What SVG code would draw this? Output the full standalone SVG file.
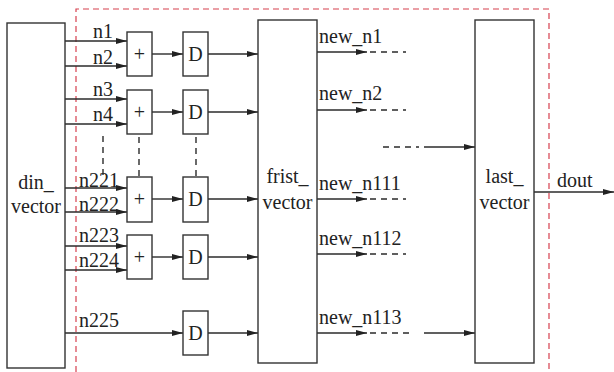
<svg xmlns="http://www.w3.org/2000/svg" width="614" height="372" viewBox="0 0 614 372">
<style>
.box{fill:#fff;stroke:#333;stroke-width:1.4}
.ln{fill:none;stroke:#2b2b2b;stroke-width:1.4}
.dl{fill:none;stroke:#2b2b2b;stroke-width:1.4;stroke-dasharray:6 5}
.red{fill:none;stroke:#d6404f;stroke-width:1.2;stroke-dasharray:6 4}
.t{font-size:20px;fill:#222}
.c{text-anchor:middle}
</style>
<defs>
<marker id="ah" markerWidth="12" markerHeight="8" refX="11" refY="4" orient="auto" markerUnits="userSpaceOnUse">
<path d="M0,1 L11,4 L0,7 Z" fill="#222"/>
</marker>
</defs>
<path class="red" d="M76,372 V9 H549 V372"/>
<g id="connectors">
<line class="ln" x1="65" y1="41" x2="127" y2="41" marker-end="url(#ah)"/>
<line class="ln" x1="65" y1="66" x2="127" y2="66" marker-end="url(#ah)"/>
<line class="ln" x1="65" y1="99" x2="127" y2="99" marker-end="url(#ah)"/>
<line class="ln" x1="65" y1="124" x2="127" y2="124" marker-end="url(#ah)"/>
<line class="ln" x1="65" y1="188" x2="127" y2="188" marker-end="url(#ah)"/>
<line class="ln" x1="65" y1="212" x2="127" y2="212" marker-end="url(#ah)"/>
<line class="ln" x1="65" y1="246" x2="127" y2="246" marker-end="url(#ah)"/>
<line class="ln" x1="65" y1="270" x2="127" y2="270" marker-end="url(#ah)"/>
<line class="ln" x1="65" y1="333" x2="183" y2="333" marker-end="url(#ah)"/>
<line class="ln" x1="152" y1="54" x2="183" y2="54" marker-end="url(#ah)"/>
<line class="ln" x1="152" y1="112" x2="183" y2="112" marker-end="url(#ah)"/>
<line class="ln" x1="152" y1="199" x2="183" y2="199" marker-end="url(#ah)"/>
<line class="ln" x1="152" y1="257" x2="183" y2="257" marker-end="url(#ah)"/>
<line class="ln" x1="208" y1="54" x2="258" y2="54" marker-end="url(#ah)"/>
<line class="ln" x1="208" y1="112" x2="258" y2="112" marker-end="url(#ah)"/>
<line class="ln" x1="208" y1="199" x2="258" y2="199" marker-end="url(#ah)"/>
<line class="ln" x1="208" y1="257" x2="258" y2="257" marker-end="url(#ah)"/>
<line class="ln" x1="208" y1="333" x2="258" y2="333" marker-end="url(#ah)"/>
<line class="dl" x1="103" y1="136" x2="103" y2="178"/>
<line class="dl" x1="139" y1="137" x2="139" y2="177"/>
<line class="dl" x1="196" y1="137" x2="196" y2="177"/>
<line class="ln" x1="317" y1="52" x2="367" y2="52" marker-end="url(#ah)"/>
<line class="dl" x1="370" y1="52" x2="406" y2="52"/>
<line class="ln" x1="317" y1="110" x2="367" y2="110" marker-end="url(#ah)"/>
<line class="dl" x1="370" y1="110" x2="406" y2="110"/>
<line class="ln" x1="317" y1="199" x2="367" y2="199" marker-end="url(#ah)"/>
<line class="dl" x1="370" y1="199" x2="406" y2="199"/>
<line class="ln" x1="317" y1="254" x2="367" y2="254" marker-end="url(#ah)"/>
<line class="dl" x1="370" y1="254" x2="406" y2="254"/>
<line class="ln" x1="317" y1="333" x2="367" y2="333" marker-end="url(#ah)"/>
<line class="dl" x1="370" y1="333" x2="412" y2="333"/>
<line class="ln" x1="424" y1="333" x2="475" y2="333" marker-end="url(#ah)"/>
<line class="dl" x1="383" y1="147" x2="419" y2="147"/>
<line class="ln" x1="424" y1="147" x2="475" y2="147" marker-end="url(#ah)"/>
<line class="ln" x1="534" y1="192" x2="614" y2="192" marker-end="url(#ah)"/>
</g>
<g font-family="Liberation Serif, DejaVu Serif, serif">
<g id="din_vector">
<rect class="box" x="7" y="23" width="58" height="345"/>
<text class="t c" x="36" y="189">din_</text>
<text class="t c" x="36" y="213">vector</text>
</g>
<g id="add1"><rect class="box" x="127" y="32" width="25" height="44"/><text class="t c" x="139.5" y="61">+</text></g>
<g id="add2"><rect class="box" x="127" y="90" width="25" height="44"/><text class="t c" x="139.5" y="119">+</text></g>
<g id="add3"><rect class="box" x="127" y="177" width="25" height="45"/><text class="t c" x="139.5" y="206">+</text></g>
<g id="add4"><rect class="box" x="127" y="235" width="25" height="44"/><text class="t c" x="139.5" y="264">+</text></g>
<g id="d1"><rect class="box" x="183" y="32" width="25" height="44"/><text class="t c" x="195.5" y="61">D</text></g>
<g id="d2"><rect class="box" x="183" y="90" width="25" height="44"/><text class="t c" x="195.5" y="119">D</text></g>
<g id="d3"><rect class="box" x="183" y="177" width="25" height="45"/><text class="t c" x="195.5" y="206">D</text></g>
<g id="d4"><rect class="box" x="183" y="235" width="25" height="44"/><text class="t c" x="195.5" y="264">D</text></g>
<g id="d5"><rect class="box" x="183" y="311" width="25" height="44"/><text class="t c" x="195.5" y="340">D</text></g>
<g id="frist_vector">
<rect class="box" x="258" y="20" width="59" height="343"/>
<text class="t c" x="287.5" y="183">frist_</text>
<text class="t c" x="287.5" y="209">vector</text>
</g>
<g id="last_vector">
<rect class="box" x="475" y="20" width="59" height="343"/>
<text class="t c" x="504.5" y="183">last_</text>
<text class="t c" x="504.5" y="209">vector</text>
</g>
<g id="labels">
<text class="t" x="93" y="38">n1</text>
<text class="t" x="93" y="64">n2</text>
<text class="t" x="93" y="96">n3</text>
<text class="t" x="93" y="121">n4</text>
<text class="t" x="79" y="187">n221</text>
<text class="t" x="79" y="211">n222</text>
<text class="t" x="79" y="242">n223</text>
<text class="t" x="79" y="267">n224</text>
<text class="t" x="79" y="327">n225</text>
<text class="t" x="319" y="43">new_n1</text>
<text class="t" x="319" y="100">new_n2</text>
<text class="t" x="319" y="190">new_n111</text>
<text class="t" x="319" y="245">new_n112</text>
<text class="t" x="319" y="324">new_n113</text>
<text class="t" x="557" y="187">dout</text>
</g>
</g>
</svg>
